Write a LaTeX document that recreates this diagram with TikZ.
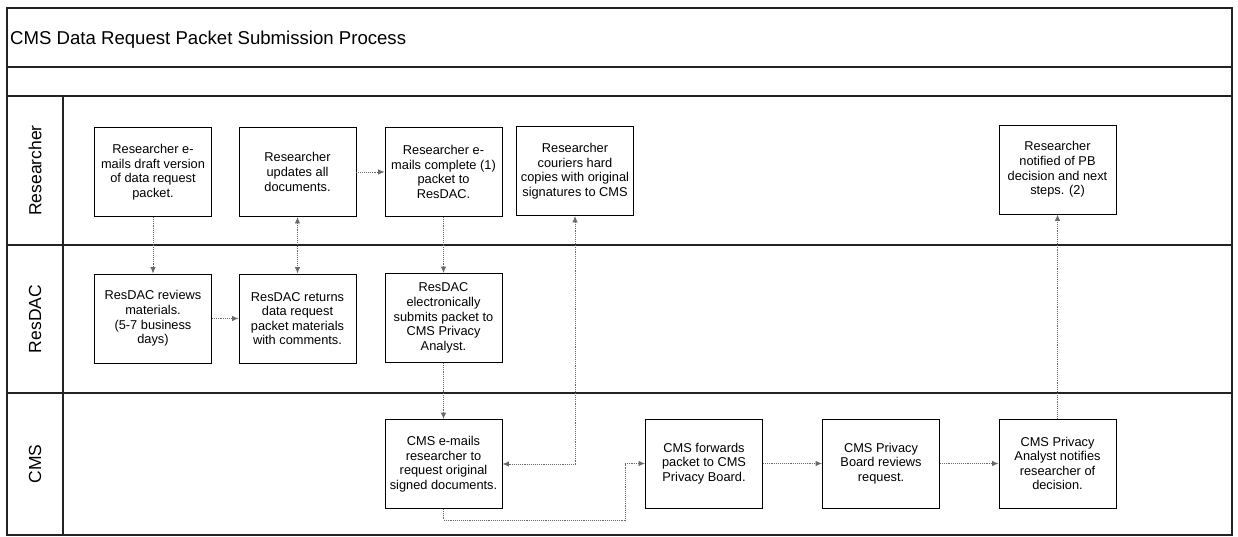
\documentclass[tikz,border=0pt]{standalone}
\usepackage{fontspec}
\setmainfont{Liberation Sans}
\usepackage{tikz}
\usetikzlibrary{arrows.meta,positioning,calc}
\definecolor{lanegray}{RGB}{35,35,35}
\definecolor{flowgray}{RGB}{105,105,105}
\tikzset{
  procbox/.style={rectangle, draw=black, line width=0.9pt,
                  minimum width=117pt, minimum height=89pt, inner sep=2pt,
                  align=center, font=\fontsize{12.8}{14.6}\selectfont},
  lanetext/.style={rotate=90, font=\fontsize{17.5}{20}\selectfont},
  laneline/.style={line width=1.1pt, lanegray},
  flow/.style={-{Latex[length=6.5pt,width=5.5pt]}, densely dotted, flowgray, line width=0.9pt},
  flowboth/.style={flow, {Latex[length=6.5pt,width=5.5pt]}-{Latex[length=6.5pt,width=5.5pt]}},
}

\begin{document}
\begin{tikzpicture}[x=1pt,y=-1pt]
  \useasboundingbox (0,0) rectangle (1238,537);
  % frame and lanes
  \draw[laneline] (7,8) rectangle (1232,535);
  \draw[laneline] (7,67) -- (1232,67);
  \draw[laneline] (7,96) -- (1232,96);
  \draw[laneline] (7,245) -- (1232,245);
  \draw[laneline] (7,393) -- (1232,393);
  \draw[laneline] (63,96) -- (63,535);
  \node[anchor=west, inner sep=0pt, font=\fontsize{18.6}{22}\selectfont] (title) at (10,40) {CMS Data Request Packet Submission Process};
  \node[lanetext] (lres) at (35,170.5) {Researcher};
  \node[lanetext] (ldac) at (35,319) {ResDAC};
  \node[lanetext] (lcms) at (35,464) {CMS};

  % Researcher
  \node[procbox] (r1) at (153,172) {Researcher e-\\mails draft version\\of data request\\packet.};
  \node[procbox] (r2) at (297.5,172) {Researcher\\updates all\\documents.};
  \node[procbox] (r3) at (443.5,172) {Researcher e-\\mails complete (1)\\packet to\\ResDAC.};
  \node[procbox] (r4) at (575,171) {Researcher\\couriers hard\\copies with original\\signatures to CMS};
  \node[procbox] (r5) at (1057.5,169.5) {Researcher\\notified of PB\\decision and next\\steps. (2)};
  % ResDAC
  \node[procbox] (d1) at (153,318.5) {ResDAC reviews\\materials.\\(5-7 business\\days)};
  \node[procbox] (d2) at (297.5,318.5) {ResDAC returns\\data request\\packet materials\\with comments.};
  \node[procbox] (d3) at (443.5,318) {ResDAC\\electronically\\submits packet to\\CMS Privacy\\Analyst.};
  % CMS
  \node[procbox] (c1) at (443.5,464) {CMS e-mails\\researcher to\\request original\\signed documents.};
  \node[procbox] (c2) at (704,463.5) {CMS forwards\\packet to CMS\\Privacy Board.};
  \node[procbox] (c3) at (881,463.5) {CMS Privacy\\Board reviews\\request.};
  \node[procbox] (c4) at (1057.5,463.5) {CMS Privacy\\Analyst notifies\\researcher of\\decision.};

  % connectors
  \coordinate (low) at (625,520);
  \coordinate (jog) at (625,463.5);
  \draw[flow] (r1) -- (d1);
  \draw[flow] (d1) -- (d2);
  \draw[flowboth] (d2) -- (r2);
  \draw[flow] (r2) -- (r3);
  \draw[flow] (r3) -- (d3);
  \draw[flow] (d3) -- (c1);
  \draw[flowboth] (r4.south) |- (c1.east);
  \draw[flow] (c1.south) |- (low) -- (jog) -- (c2.west);
  \draw[flow] (c2) -- (c3);
  \draw[flow] (c3) -- (c4);
  \draw[flow] (c4) -- (r5);
\end{tikzpicture}
\end{document}
